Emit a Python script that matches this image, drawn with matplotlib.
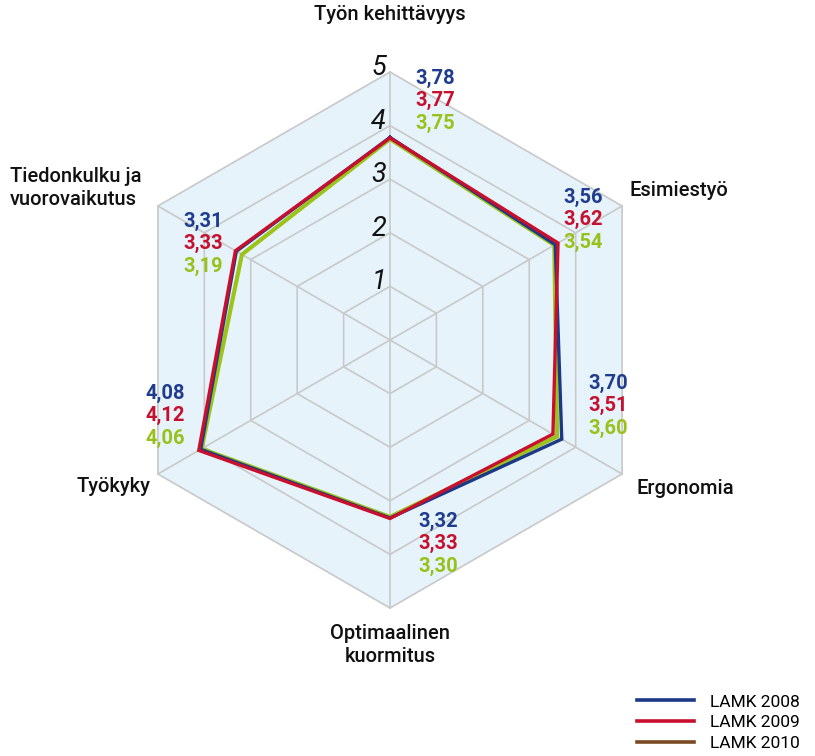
import matplotlib.pyplot as plt
import numpy as np
from matplotlib.lines import Line2D

# axes, clockwise from top
categories = ['Työn kehittävyys', 'Esimiestyö', 'Ergonomia',
              'Optimaalinen\nkuormitus', 'Työkyky', 'Tiedonkulku ja\nvuorovaikutus']
series_names = ['LAMK 2008', 'LAMK 2009', 'LAMK 2010']
lamk_2008 = [3.78, 3.56, 3.70, 3.32, 4.08, 3.31]
lamk_2009 = [3.77, 3.62, 3.51, 3.33, 4.12, 3.33]
lamk_2010 = [3.75, 3.54, 3.60, 3.30, 4.06, 3.19]
ticks = [1, 2, 3, 4, 5]

line_colors = ['#1c3886', '#c8102e', '#9cc31a']
label_colors = ['#1f3c8e', '#c5112f', '#98c21b']
legend_colors = ['#1c3886', '#c8102e', '#7a4b22']

W, H = 815, 756
CX, CY = 390, 340        # centre in pixels
PX = 53.6                # pixels per scale unit


def pix(px, py):
    # pixel position -> data coords
    return (px - CX) / PX, (CY - py) / PX


def polar(vals):
    ang = np.deg2rad(90 - 60 * np.arange(len(vals)))
    v = np.asarray(vals, dtype=float)
    x = v * np.cos(ang)
    y = v * np.sin(ang)
    return np.append(x, x[0]), np.append(y, y[0])


def main():
    fig = plt.figure(figsize=(W / 100, H / 100), dpi=100)
    ax = fig.add_axes([0, 0, 1, 1])
    x0, y0 = pix(0, H)
    x1, y1 = pix(W, 0)
    ax.set_xlim(x0, x1)
    ax.set_ylim(y0, y1)
    ax.axis('off')

    n = len(categories)
    grid = '#c9c9c9'

    # background hexagon
    hx, hy = polar([5] * n)
    ax.fill(hx, hy, color='#e6f3fa', zorder=0)

    # rings and spokes
    for t in ticks:
        rx, ry = polar([t] * n)
        ax.plot(rx, ry, color=grid, lw=1.2, zorder=1)
    for i in range(n):
        ax.plot([0, hx[i]], [0, hy[i]], color=grid, lw=1.2, zorder=1)

    # tick numbers along the top spoke
    for t in ticks:
        ax.text(-4 / PX, t + 4 / PX, str(t), ha='right', va='center',
                fontsize=19.5, style='italic', fontweight='normal',
                family='Roboto', color='#111111', zorder=3)

    # data lines
    data = [lamk_2008, lamk_2009, lamk_2010]
    widths = [2.4, 2.4, 3.0]
    for order, k in enumerate([2, 0, 1]):
        dx, dy = polar(data[k])
        ax.plot(dx, dy, color=line_colors[k], lw=widths[k],
                solid_joinstyle='miter', zorder=4 + order)

    # category labels
    cat_pos = [((390, 15), 'center'), ((630, 190), 'left'), ((637, 488), 'left'),
               ((390, 645), 'center'), ((150, 487), 'right'), ((10, 188), 'left')]
    for name, ((px, py), ha) in zip(categories, cat_pos):
        ax.text(*pix(px, py), name, ha=ha, va='center', fontsize=14.5,
                family='Roboto', fontweight='medium', color='#111111',
                linespacing=1.3,
                multialignment='center' if ha == 'center' else 'left')

    # value labels
    val_pos = [(415, 78), (563, 197), (588, 383), (418, 521), (146, 393), (183, 221)]
    for i, (px, py) in enumerate(val_pos):
        for k in range(3):
            txt = '{0:.2f}'.format(data[k][i]).replace('.', ',')
            ax.text(*pix(px, py + 22.5 * k), txt, ha='left', va='center',
                    fontsize=14.5, fontweight='bold', family='Roboto',
                    color=label_colors[k])

    # legend
    handles = [Line2D([], [], color=c, lw=2.6) for c in legend_colors]
    fig.legend(handles, series_names, loc='lower right',
               bbox_to_anchor=(1.0, -0.014), frameon=False,
               handlelength=3.3, labelspacing=0.32, handletextpad=0.9,
               prop={'family': 'Roboto', 'size': 12.5})

    fig.savefig('out.png', dpi=100)


if __name__ == '__main__':
    main()
